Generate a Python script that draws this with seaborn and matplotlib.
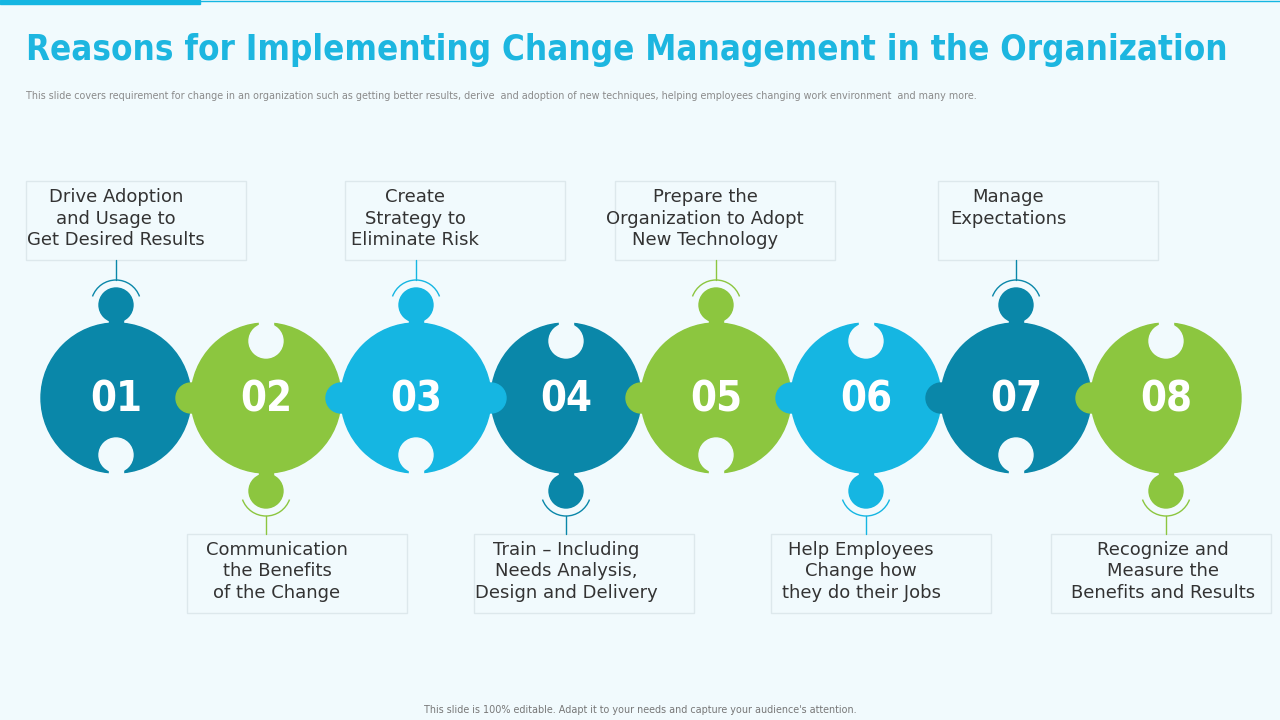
import matplotlib.pyplot as plt
import seaborn as sns
from matplotlib.patches import Circle, Rectangle, Arc

sns.set_style("white")

BG = "#f1fafd"
DARK = "#0a87a9"
GREEN = "#8cc63f"
CYAN = "#15b6e2"

numbers = ["01", "02", "03", "04", "05", "06", "07", "08"]
colors = [DARK, GREEN, CYAN, DARK, GREEN, CYAN, DARK, GREEN]
joint_colors = [GREEN, CYAN, CYAN, GREEN, CYAN, DARK, GREEN]
labels = [
    "Drive Adoption\nand Usage to\nGet Desired Results",
    "Communication\nthe Benefits\nof the Change",
    "Create\nStrategy to\nEliminate Risk",
    "Train \u2013 Including\nNeeds Analysis,\nDesign and Delivery",
    "Prepare the\nOrganization to Adopt\nNew Technology",
    "Help Employees\nChange how\nthey do their Jobs",
    "Manage\nExpectations",
    "Recognize and\nMeasure the\nBenefits and Results",
]
box_left = [26, 187, 345, 474, 615, 771, 938, 1051]

fig = plt.figure(figsize=(12.8, 7.2), dpi=100, facecolor=BG)
ax = fig.add_axes([0, 0, 1, 1])
ax.set_xlim(0, 1280)
ax.set_ylim(720, 0)
ax.axis("off")
ax.set_facecolor(BG)

ax.add_patch(Rectangle((0, 0), 200, 4, color=CYAN))
ax.plot([200, 1280], [1, 1], color=CYAN, lw=1)
ax.text(26, 50, "Reasons for Implementing Change Management in the Organization",
        fontsize=25, fontweight="bold", color="#1db6e0", va="center",
        fontstretch="condensed", family="DejaVu Sans")
ax.text(26, 96, "This slide covers requirement for change in an organization such as getting better results, derive  and adoption of new techniques, helping employees changing work environment  and many more.",
        fontsize=6.9, color="#8a8a8a", va="center")
ax.text(640, 710, "This slide is 100% editable. Adapt it to your needs and capture your audience's attention.",
        fontsize=6.9, color="#777777", ha="center", va="center")

cy, r = 398, 75
for i, (num, col, lab, bx) in enumerate(zip(numbers, colors, labels, box_left)):
    cx = 116 + i * 150
    ax.add_patch(Circle((cx, cy), r, color=col, zorder=2))
    top = i % 2 == 0
    ky = cy - 93 if top else cy + 93
    hy = cy + 57 if top else cy - 57
    sgn = -1 if top else 1
    # knob
    ax.add_patch(Rectangle((cx - 7, min(ky, cy + sgn * 70)), 14, abs(cy + sgn * 70 - ky), color=col, zorder=2))
    ax.add_patch(Circle((cx, ky), 17, color=col, zorder=2))
    # notch
    ax.add_patch(Circle((cx, hy), 17, color=BG, zorder=3))
    ax.add_patch(Rectangle((cx - 7, min(hy, cy - sgn * 80)), 14, abs(cy - sgn * 80 - hy), color=BG, zorder=3))
    # arc + connector
    theta = (200, 340) if top else (20, 160)
    ax.add_patch(Arc((cx, ky), 50, 50, theta1=theta[0], theta2=theta[1], color=col, lw=1, zorder=2))
    y0, y1 = (ky - 25, 260) if top else (ky + 25, 534)
    ax.plot([cx, cx], [y0, y1], color=col, lw=1, zorder=2)
    # box
    by = 181 if top else 534
    ax.add_patch(Rectangle((bx, by), 220, 79, facecolor=BG, edgecolor="#dde8ec", lw=1, zorder=1))
    ax.text(bx + 90 if i in (0, 1, 4, 5) else bx + 70 if i in (2, 6) else bx + 92 if i == 3 else bx + 112,
            by + 7, lab, fontsize=13, color="#333333", ha="center", va="top", linespacing=1.25)
    ax.text(cx, cy + 2, num, fontsize=30, fontweight="bold", color="white",
            ha="center", va="center", fontstretch="condensed", zorder=5)

for j, jc in enumerate(joint_colors):
    jx = 116 + j * 150 + 75
    ax.add_patch(Circle((jx, cy), 15, color=jc, zorder=4))

fig.savefig("out.png", dpi=100, facecolor=BG)
